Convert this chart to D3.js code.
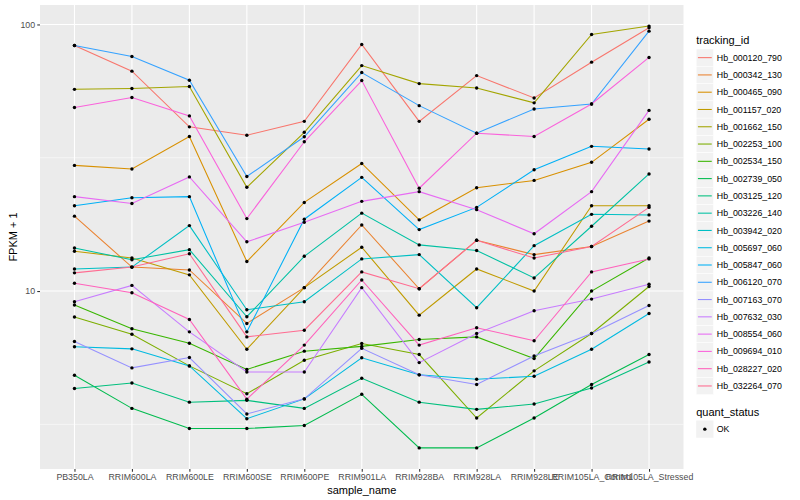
<!DOCTYPE html>
<html>
<head>
<meta charset="utf-8">
<script src="https://cdn.jsdelivr.net/npm/d3@7"></script>
<style>
body { margin: 0; background: #fff; }
text { font-family: "Liberation Sans", Arial, Helvetica, sans-serif; }
</style>
</head>
<body>
<div id="chart"></div>
<script>
var samples = ["PB350LA", "RRIM600LA", "RRIM600LE", "RRIM600SE", "RRIM600PE", "RRIM901LA",
  "RRIM928BA", "RRIM928LA", "RRIM928LE", "RRIM105LA_Control", "RRIM105LA_Stressed"];

var trackingIds = ["Hb_000120_790", "Hb_000342_130", "Hb_000465_090", "Hb_001157_020", "Hb_001662_150",
  "Hb_002253_100", "Hb_002534_150", "Hb_002739_050", "Hb_003125_120", "Hb_003226_140",
  "Hb_003942_020", "Hb_005697_060", "Hb_005847_060", "Hb_006120_070", "Hb_007163_070",
  "Hb_007632_030", "Hb_008554_060", "Hb_009694_010", "Hb_028227_020", "Hb_032264_070"];

// FPKM + 1, one row per tracking id, one value per sample
var fpkm = [
  [83.4, 66.8, 41.3, 38.4, 43.3, 84.1, 43.3, 64.3, 53.0, 72.2, 97.2],   // Hb_000120_790
  [19.1, 12.3, 12.0, 7.56, 10.3, 17.7, 10.2, 15.5, 13.7, 14.7, 18.3],   // Hb_000342_130
  [29.6, 28.7, 38.0, 12.9, 21.5, 30.1, 18.5, 24.4, 26.0, 30.4, 44.1],   // Hb_000465_090
  [14.1, 13.3, 11.5, 6.05, 10.3, 14.6, 8.12, 12.1, 10.0, 20.9, 20.9],   // Hb_001157_020
  [57.1, 57.5, 58.5, 24.5, 39.4, 70.1, 60.0, 57.8, 50.8, 91.7, 98.6],   // Hb_001662_150
  [7.99, 6.89, 5.24, 4.12, 5.50, 6.36, 5.78, 3.34, 5.02, 6.93, 10.4],   // Hb_002253_100
  [8.86, 7.22, 6.37, 5.08, 5.95, 6.20, 6.58, 6.73, 5.58, 10.0, 13.3],   // Hb_002534_150
  [4.83, 3.63, 3.05, 3.05, 3.13, 4.10, 2.58, 2.58, 3.34, 4.46, 5.78],   // Hb_002739_050
  [4.31, 4.52, 3.83, 3.89, 3.63, 4.71, 3.83, 3.60, 3.77, 4.33, 5.42],   // Hb_003125_120
  [14.5, 13.1, 14.3, 8.01, 13.5, 19.6, 14.9, 14.2, 11.2, 17.5, 27.5],   // Hb_003226_140
  [12.1, 12.3, 17.6, 8.51, 9.12, 13.2, 13.7, 8.66, 14.8, 19.4, 19.3],   // Hb_003942_020
  [6.18, 6.07, 5.24, 3.32, 3.94, 5.62, 4.85, 4.67, 4.79, 6.05, 8.24],   // Hb_005697_060
  [20.9, 22.4, 22.6, 7.03, 18.6, 26.7, 17.0, 20.6, 28.5, 34.9, 34.1],   // Hb_005847_060
  [83.4, 75.8, 61.8, 26.9, 37.9, 66.0, 49.6, 39.1, 48.2, 50.3, 94.4],   // Hb_006120_070
  [6.47, 5.15, 5.63, 3.46, 3.94, 6.10, 4.85, 4.46, 5.71, 6.93, 8.83],   // Hb_007163_070
  [9.12, 10.5, 7.03, 4.97, 4.97, 10.3, 5.39, 6.93, 8.44, 9.33, 10.6],   // Hb_007632_030
  [22.6, 21.3, 26.8, 15.3, 18.1, 21.7, 23.6, 20.2, 16.4, 23.6, 47.6],   // Hb_008554_060
  [48.8, 53.2, 45.4, 18.7, 36.3, 61.6, 24.3, 39.1, 38.0, 50.3, 75.2],   // Hb_009694_010
  [10.7, 9.86, 7.82, 3.93, 6.27, 11.0, 6.27, 7.28, 6.51, 11.8, 13.2],   // Hb_028227_020
  [11.7, 12.3, 13.8, 6.73, 7.13, 11.8, 10.2, 15.5, 13.3, 14.7, 20.6]    // Hb_032264_070
];

var statusLevels = ["OK"];
var yBreaks = [10, 100];

// ggplot hue palette for 20 levels
var palette = ["#F8766D", "#EA8331", "#D89000", "#C09B00", "#A3A500", "#7CAE00", "#39B600", "#00BB4E",
  "#00BF7D", "#00C1A3", "#00BFC4", "#00BAE0", "#00B0F6", "#35A2FF", "#9590FF", "#C77CFF",
  "#E76BF3", "#FA62DB", "#FF62BC", "#FF6C91"];

var width = 800, height = 500;
var panel = {left: 40, right: 683.5, top: 5, bottom: 469};

var svg = d3.select('#chart').append('svg')
  .attr('width', width)
  .attr('height', height);

var x = d3.scalePoint()
  .domain(samples)
  .range([panel.left, panel.right])
  .padding(0.6);

// log scale expanded 5% each side like ggplot
var all = d3.merge(fpkm);
var lo = Math.log10(d3.min(all)), hi = Math.log10(d3.max(all));
var pad = (hi - lo) * 0.05;
var y = d3.scaleLog()
  .domain([Math.pow(10, lo - pad), Math.pow(10, hi + pad)])
  .range([panel.bottom, panel.top]);

var color = d3.scaleOrdinal().domain(trackingIds).range(palette);

// panel background
svg.append('rect')
  .attr('x', panel.left)
  .attr('y', panel.top)
  .attr('width', panel.right - panel.left)
  .attr('height', panel.bottom - panel.top)
  .attr('fill', '#EBEBEB');

// minor gridlines halfway between decades
var yMinor = [1, 10, 100].map(function(b) { return b * Math.sqrt(10); })
  .filter(function(v) { return v > y.domain()[0] && v < y.domain()[1]; });

svg.append('g').selectAll('line').data(yMinor).enter().append('line')
  .attr('x1', panel.left).attr('x2', panel.right)
  .attr('y1', function(d) { return y(d); }).attr('y2', function(d) { return y(d); })
  .attr('stroke', '#fff').attr('stroke-width', 0.55);

svg.append('g').selectAll('line').data(yBreaks).enter().append('line')
  .attr('x1', panel.left).attr('x2', panel.right)
  .attr('y1', function(d) { return y(d); }).attr('y2', function(d) { return y(d); })
  .attr('stroke', '#fff').attr('stroke-width', 1.1);

svg.append('g').selectAll('line').data(samples).enter().append('line')
  .attr('x1', function(d) { return x(d); }).attr('x2', function(d) { return x(d); })
  .attr('y1', panel.top).attr('y2', panel.bottom)
  .attr('stroke', '#fff').attr('stroke-width', 1.1);

// lines
var line = d3.line()
  .x(function(d, i) { return x(samples[i]); })
  .y(function(d) { return y(d); });

svg.append('g').selectAll('path').data(fpkm).enter().append('path')
  .attr('d', line)
  .attr('fill', 'none')
  .attr('stroke', function(d, i) { return color(trackingIds[i]); })
  .attr('stroke-width', 1.07);

// points
fpkm.forEach(function(row) {
  svg.append('g').selectAll('circle').data(row).enter().append('circle')
    .attr('cx', function(d, i) { return x(samples[i]); })
    .attr('cy', function(d) { return y(d); })
    .attr('r', 1.7)
    .attr('fill', '#000');
});

// axes
var yAxis = svg.append('g')
  .attr('transform', 'translate(' + panel.left + ',0)')
  .call(d3.axisLeft(y).tickValues(yBreaks).tickFormat(d3.format('d')).tickSize(2.75).tickPadding(2.2));
var xAxis = svg.append('g')
  .attr('transform', 'translate(0,' + panel.bottom + ')')
  .call(d3.axisBottom(x).tickSize(2.75).tickPadding(2.2));

[yAxis, xAxis].forEach(function(g) {
  g.select('.domain').remove();
  g.selectAll('line').attr('stroke', '#333333').attr('stroke-width', 1.07);
  g.selectAll('text').attr('fill', '#4D4D4D').style('font-size', '8.8px');
});

svg.append('text')
  .attr('x', (panel.left + panel.right) / 2)
  .attr('y', 494)
  .attr('text-anchor', 'middle')
  .style('font-size', '11px')
  .text('sample_name');

svg.append('text')
  .attr('transform', 'translate(17,' + (panel.top + panel.bottom) / 2 + ') rotate(-90)')
  .attr('text-anchor', 'middle')
  .style('font-size', '11px')
  .text('FPKM + 1');

// legend: tracking_id
var keySize = 17.28, legX = 696.2;
var leg = svg.append('g');
leg.append('text')
  .attr('x', legX).attr('y', 44)
  .style('font-size', '11px')
  .text('tracking_id');

var keys = leg.selectAll('g.key').data(trackingIds).enter().append('g')
  .attr('class', 'key')
  .attr('transform', function(d, i) { return 'translate(' + legX + ',' + (49 + i * keySize) + ')'; });
keys.append('rect')
  .attr('width', keySize).attr('height', keySize)
  .attr('fill', '#F2F2F2').attr('stroke', '#fff').attr('stroke-width', 0.5);
keys.append('line')
  .attr('x1', keySize * 0.1).attr('x2', keySize * 0.9)
  .attr('y1', keySize / 2).attr('y2', keySize / 2)
  .attr('stroke', function(d) { return color(d); })
  .attr('stroke-width', 1.07);
keys.append('text')
  .attr('x', keySize + 3.3).attr('y', keySize / 2 + 3.1)
  .style('font-size', '8.8px')
  .text(function(d) { return d; });

// legend: quant_status
leg.append('text')
  .attr('x', legX).attr('y', 416)
  .style('font-size', '11px')
  .text('quant_status');

var skeys = leg.selectAll('g.skey').data(statusLevels).enter().append('g')
  .attr('class', 'skey')
  .attr('transform', function(d, i) { return 'translate(' + legX + ',' + (420.5 + i * keySize) + ')'; });
skeys.append('rect')
  .attr('width', keySize).attr('height', keySize)
  .attr('fill', '#F2F2F2');
skeys.append('circle')
  .attr('cx', keySize / 2).attr('cy', keySize / 2)
  .attr('r', 1.7).attr('fill', '#000');
skeys.append('text')
  .attr('x', keySize + 3.3).attr('y', keySize / 2 + 3.1)
  .style('font-size', '8.8px')
  .text(function(d) { return d; });
</script>
</body>
</html>
